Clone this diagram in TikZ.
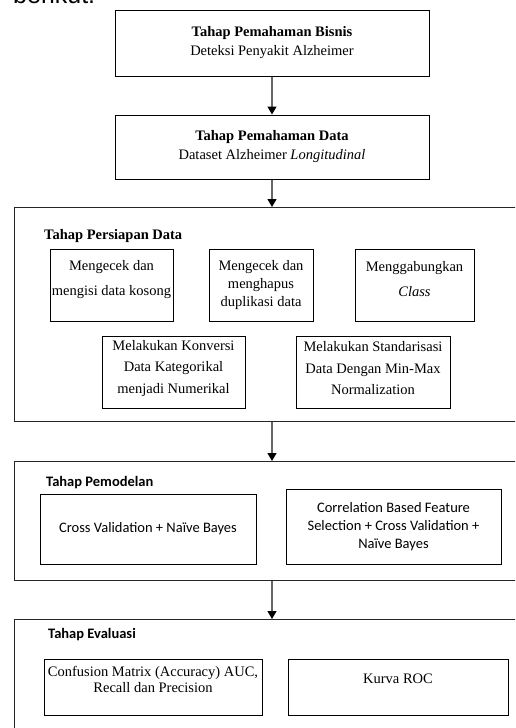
\documentclass[tikz,border=0pt]{standalone}
\usepackage{fontspec}
\setmainfont{Liberation Serif}
\newfontfamily\calibri{Carlito}
\newfontfamily\arialsans{Liberation Sans}
\usetikzlibrary{arrows.meta}

\tikzset{
	stage/.style={draw, line width=1pt, minimum width=314pt, align=center,
		font=\fontsize{14.5}{19}\selectfont},
	panel/.style={draw=black!85, line width=1pt, minimum width=516pt, anchor=north},
	frame/.style={draw, line width=0.9pt},
	tasktext/.style={align=center, inner sep=0pt, font=\fontsize{14.5}{#1}\selectfont},
	tasktext/.default=18.3,
	modeltext/.style={align=center, inner sep=0pt, font=\calibri\fontsize{14.5}{18.2}\selectfont},
	heading/.style={anchor=base west, inner sep=0pt},
	flow/.style={draw=black!60, line width=1.3pt, -{Triangle[width=9pt,length=8pt,color=black]}},
}

\begin{document}
\begin{tikzpicture}[x=1pt,y=-1pt]
		\useasboundingbox (0,0) rectangle (515,728);
		\clip (0,0) rectangle (515,728);
		\node[anchor=base west, inner sep=0pt, font=\arialsans\fontsize{25}{30}\selectfont] (lanjut) at (13,4) {berikut.};
		
		% tahap 1 dan 2
		\node[stage, minimum height=66pt] (bisnis) at (272,43) {\textbf{Tahap Pemahaman Bisnis}\\Deteksi Penyakit Alzheimer};
		\node[stage, minimum height=64pt] (pahamdata) at (272,147) {\textbf{Tahap Pemahaman Data}\\Dataset Alzheimer \textit{Longitudinal}};
		
		% tahap persiapan data
		\node[panel, minimum height=214pt] (persiapan) at (272,207) {};
		\node[heading, font=\bfseries\fontsize{14.5}{18}\selectfont] (judulsiap) at (44,239) {Tahap Persiapan Data};
		\node[frame, minimum width=123pt, minimum height=72pt] (kosong) at (111.5,285) {};
		\node[tasktext=25] (kosongtx) at ([yshift=5.5pt]kosong.center) {Mengecek dan\\mengisi data kosong};
		\node[frame, minimum width=104pt, minimum height=72pt] (duplikat) at (261,285) {};
		\node[tasktext] (duplikattx) at (duplikat.center) {Mengecek dan\\menghapus\\duplikasi data};
		\node[frame, minimum width=119pt, minimum height=72pt] (gabung) at (414.5,285) {};
		\node[tasktext=25] (gabungtx) at ([yshift=6pt]gabung.center) {Menggabungkan\\\textit{Class}};
		\node[frame, minimum width=143pt, minimum height=72pt] (konversi) at (173.5,372) {};
		\node[tasktext=21.7] (konversitx) at ([yshift=3.7pt]konversi.center) {Melakukan Konversi\\Data Kategorikal\\menjadi Numerikal};
		\node[frame, minimum width=154pt, minimum height=72pt] (standar) at (373,372) {};
		\node[tasktext=21.7] (standartx) at ([yshift=3.7pt]standar.center) {Melakukan Standarisasi\\Data Dengan Min-Max\\Normalization};
		
		% tahap pemodelan
		\node[panel, minimum height=119pt] (pemodelan) at (272,461) {};
		\node[heading, font=\calibri\bfseries\fontsize{14.5}{18}\selectfont] (judulmodel) at (46,486) {Tahap Pemodelan};
		\node[frame, minimum width=216pt, minimum height=70pt, modeltext] (nbbiasa) at (148,529) {Cross Validation + Naïve Bayes};
		\node[frame, minimum width=215pt, minimum height=75pt, modeltext] (nbcfs) at (393.5,526.5) {Correlation Based Feature\\Selection + Cross Validation +\\Naïve Bayes};
		
		% tahap evaluasi
		\node[panel, minimum height=130pt] (evaluasi) at (272,619) {};
		\node[heading, font=\calibri\bfseries\fontsize{14.5}{18}\selectfont] (juduleval) at (48,638) {Tahap Evaluasi};
		\node[frame, minimum width=218pt, minimum height=56pt] (matriks) at (153,687) {};
		\node[tasktext=16] (matrikstx) at ([yshift=8pt]matriks.center) {Confusion Matrix (Accuracy) AUC,\\Recall dan Precision};
		\node[frame, minimum width=220pt, minimum height=56pt] (kurva) at (398,687) {};
		\node[tasktext] (kurvatx) at ([yshift=8pt]kurva.center) {Kurva ROC};
		
		% alur antar tahap
		\draw[flow] (bisnis) -- (pahamdata);
		\draw[flow] (pahamdata) -- (persiapan);
		\draw[flow] (persiapan) -- (pemodelan);
		\draw[flow] (pemodelan) -- (evaluasi);
	\end{tikzpicture}
\end{document}
